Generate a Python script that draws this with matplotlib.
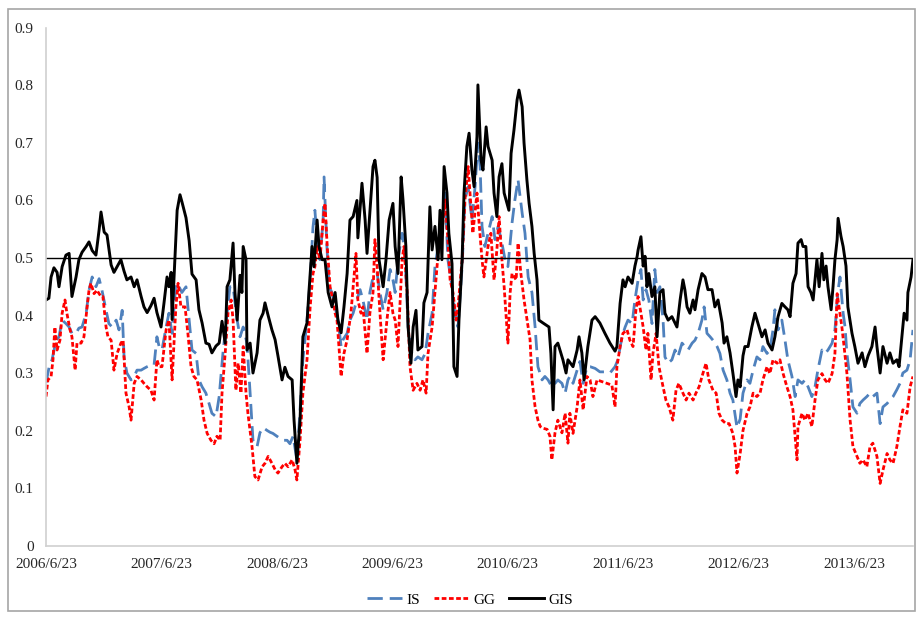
import pandas as pd
import matplotlib
matplotlib.use('Agg')
import matplotlib.pyplot as plt
from matplotlib.patches import Rectangle

plt.rcParams['font.family'] = ['Liberation Serif', 'DejaVu Serif']
plt.rcParams['lines.scale_dashes'] = False

# series start date, values keyed by days since start
start = pd.Timestamp('2006-06-23')
last_day = 2744

tick_years = [2006, 2007, 2008, 2009, 2010, 2011, 2012, 2013]
tick_labels = ['%d/6/23' % y for y in tick_years]
y_ticks = [0, 0.1, 0.2, 0.3, 0.4, 0.5, 0.6, 0.7, 0.8, 0.9]
y_labels = ['0', '0.1', '0.2', '0.3', '0.4', '0.5', '0.6', '0.7', '0.8', '0.9']
threshold = 0.5

gis = [(0,.427),(9,.43),(16,.467),(25,.483),(35,.475),(41,.45),(51,.485),(63,.505),(73,.508),(82,.433),
       (95,.467),(104,.497),(114,.51),(127,.52),(136,.528),(146,.513),(158,.505),(168,.549),(174,.58),(184,.545),
       (193,.54),(206,.488),(215,.475),(225,.485),(237,.497),(247,.477),(256,.462),(269,.467),(279,.45),(288,.462),
       (301,.433),(310,.415),(320,.405),(332,.417),(342,.43),(351,.405),(364,.38),(373,.42),(383,.467),(389,.45),
       (396,.475),(399,.393),(408,.5),(415,.583),(424,.61),(430,.598),(443,.57),(453,.53),(462,.472),(475,.462),
       (484,.41),(494,.387),(506,.352),(516,.35),(525,.335),(538,.347),(548,.352),
       (557,.39),(567,.352),(573,.45),(582,.462),(592,.526),(598,.44),(605,.392),(614,.47),(620,.44),(624,.52),
       (633,.497),(636,.34),(646,.352),(655,.3),(668,.335),(677,.392),(687,.404),(693,.422),(703,.4),(715,.375),
       (725,.358),(734,.33),(747,.288),(756,.31),(766,.294),(779,.288),(785,.218),(794,.143),(804,.218),(813,.363),
       (826,.387),(832,.44),(842,.52),(848,.485),(858,.566),(864,.52),(874,.497),(883,.497),(893,.44),(905,.415),
       (915,.44),(924,.392),(934,.37),(943,.415),(953,.473),(962,.566),(972,.572),(984,.6),(987,.535),(1000,.63),
       (1010,.566),(1016,.508),(1029,.613),(1035,.659),(1041,.67),(1048,.64),(1054,.497),(1067,.45),(1076,.497),
       (1086,.566),(1098,.595),(1105,.52),
       (1114,.473),(1124,.641),(1130,.6),(1139,.52),(1146,.38),(1155,.317),(1162,.38),(1171,.409),(1177,.34),
       (1190,.346),(1196,.422),(1206,.44),(1215,.589),(1222,.514),(1231,.555),(1241,.497),(1247,.583),(1253,.497),
       (1260,.659),(1269,.613),(1275,.543),(1285,.49),(1291,.311),(1301,.294),(1307,.392),(1317,.497),(1323,.613),
       (1332,.694),(1339,.717),(1348,.653),(1355,.624),(1364,.711),(1367,.801),(1377,.67),(1383,.653),(1393,.728),
       (1399,.694),(1412,.67),(1418,.613),(1427,.572),(1434,.641),(1443,.664),(1450,.613),(1459,.595),(1465,.583),
       (1472,.682),(1481,.722),(1491,.775),(1497,.792),(1507,.763),(1513,.7),(1522,.636),(1529,.595),(1538,.555),
       (1545,.508),(1554,.462),(1560,.392),(1573,.387),(1592,.38),(1598,.334),(1605,.236),(1611,.346),(1620,.352),
       (1630,.334),(1636,.323),(1646,.3),(1652,.323),
       (1668,.311),(1681,.34),(1687,.363),(1696,.335),(1703,.288),(1715,.346),(1728,.392),(1738,.398),(1753,.387),
       (1769,.369),(1785,.352),(1801,.338),(1807,.346),(1817,.421),(1826,.462),(1833,.45),(1842,.467),(1855,.456),
       (1864,.486),(1871,.503),(1874,.514),(1883,.537),(1890,.486),(1896,.503),(1902,.45),(1908,.473),(1918,.433),
       (1927,.45),(1934,.363),(1943,.44),(1953,.445),(1959,.404),(1969,.392),(1981,.398),(1991,.387),(1997,.38),
       (2007,.427),(2016,.462),(2022,.445),(2029,.415),(2038,.404),(2048,.427),(2054,.41),(2064,.445),(2076,.473),
       (2086,.467),(2095,.445),(2108,.445),(2117,.415),(2127,.427),(2140,.387),(2146,.352),(2155,.363),(2165,.335),
       (2174,.3),(2184,.259),(2190,.288),(2197,.276),
       (2206,.33),(2212,.346),(2222,.346),(2234,.38),(2244,.404),(2253,.387),(2266,.363),(2276,.375),(2285,.352),
       (2298,.34),(2307,.363),(2317,.398),(2329,.421),(2339,.415),(2348,.41),(2355,.398),(2364,.456),(2374,.473),
       (2380,.526),(2390,.532),(2396,.52),(2405,.52),(2412,.45),(2421,.44),(2428,.427),(2434,.462),(2440,.497),
       (2447,.45),(2456,.508),(2462,.462),(2469,.486),(2475,.45),(2485,.41),(2491,.45),(2497,.497),(2504,.532),
       (2507,.569),(2516,.538),(2523,.52),(2532,.486),(2538,.415),(2551,.369),(2560,.346),(2570,.317),(2583,.335),
       (2592,.311),(2602,.33),(2614,.346),(2624,.38),(2630,.346),(2640,.3),(2649,.346),(2662,.317),(2671,.335),
       (2681,.317),(2693,.323),(2700,.311),(2709,.363),(2716,.404),(2725,.392),(2728,.44),(2738,.467),(2744,.497)]

is_ = [(0,.283),(10,.311),(19,.323),(32,.357),(41,.363),(51,.392),(63,.386),(73,.38),(82,.369),(95,.369),
       (104,.378),(114,.38),(127,.404),(136,.444),(146,.467),(158,.45),(168,.464),(177,.444),(190,.409),(199,.386),
       (209,.38),(222,.392),(231,.375),(241,.409),(247,.328),(256,.3),(269,.288),(279,.294),(288,.305),(301,.305),
       (310,.308),(320,.311),(332,.314),(342,.314),(351,.363),(358,.346),(367,.34),(380,.38),(389,.404),(399,.369),
       (411,.456),(421,.45),(430,.44),(443,.45),(453,.392),(462,.34),(475,.334),(484,.288),(494,.276),(506,.265),
       (516,.247),(525,.23),(538,.224),(548,.259),
       (560,.335),(573,.404),(582,.45),(592,.45),(605,.392),(614,.363),(624,.38),(636,.352),(646,.265),(655,.183),
       (668,.172),(677,.196),(687,.205),(700,.2),(709,.197),(718,.195),(731,.19),(741,.186),(750,.183),(763,.183),
       (772,.177),(782,.19),(794,.149),(804,.236),(813,.323),(826,.392),(836,.462),(845,.554),(851,.583),(858,.532),
       (867,.497),(877,.566),(880,.641),(889,.52),(896,.45),(905,.44),(915,.415),(924,.392),(934,.346),(940,.358),
       (953,.369),(962,.392),(972,.404),(984,.427),(994,.445),(1003,.427),(1016,.392),(1025,.44),(1035,.467),
       (1048,.473),(1057,.44),(1067,.41),(1079,.44),(1089,.48),(1098,.462),
       (1105,.44),(1114,.497),(1127,.543),(1136,.508),(1146,.38),(1158,.334),(1168,.323),(1177,.328),(1190,.323),
       (1200,.334),(1209,.369),(1222,.404),(1231,.485),(1241,.52),(1253,.543),(1263,.613),(1272,.497),(1285,.45),
       (1294,.404),(1304,.38),(1317,.485),(1326,.601),(1336,.624),(1348,.566),(1358,.624),(1367,.7),(1374,.659),
       (1380,.555),(1389,.52),(1399,.543),(1412,.572),(1421,.532),(1431,.555),(1443,.526),(1453,.497),(1462,.485),
       (1475,.561),(1484,.601),(1494,.636),(1507,.578),(1516,.543),(1526,.467),(1538,.44),(1548,.38),(1557,.311),
       (1570,.288),(1579,.294),(1589,.288),(1601,.276),(1611,.282),(1620,.288),(1633,.282),(1643,.265),(1652,.288),
       (1658,.294),(1668,.282),(1681,.305),(1690,.32),(1700,.282),(1712,.311),(1722,.311),(1738,.308),(1753,.302),
       (1769,.302),(1785,.3),(1801,.311),(1810,.323),(1823,.363),(1833,.38),(1842,.392),(1855,.386),(1864,.427),
       (1874,.462),(1883,.48),(1890,.427),(1899,.445),(1908,.427),(1918,.386),(1927,.48),(1934,.44),(1943,.45),
       (1953,.392),(1959,.328),(1969,.317),(1981,.323),(1991,.34),(2000,.328),(2013,.352),(2022,.346),(2032,.34),
       (2045,.352),(2054,.357),(2064,.369),(2076,.392),(2083,.415),(2092,.369),(2102,.363),(2111,.357),(2124,.346),
       (2133,.334),(2143,.305),(2155,.288),(2165,.265),(2174,.253),(2187,.205),
       (2197,.22),(2206,.265),(2219,.288),(2228,.282),(2238,.305),(2250,.328),(2260,.323),(2269,.346),(2282,.334),
       (2291,.34),(2301,.375),(2307,.41),(2317,.375),(2329,.392),(2339,.357),(2348,.323),(2361,.294),(2371,.259),
       (2380,.288),(2393,.282),(2402,.288),(2412,.276),(2424,.259),(2434,.276),(2443,.305),(2456,.34),(2466,.334),
       (2475,.34),(2488,.352),(2497,.375),(2507,.444),(2513,.467),(2523,.404),(2529,.38),(2535,.334),(2545,.288),
       (2554,.241),(2567,.23),(2576,.247),(2586,.253),(2598,.259),(2608,.265),(2617,.259),(2630,.265),(2640,.212),
       (2649,.241),(2662,.247),(2671,.253),(2681,.259),(2693,.271),(2703,.282),(2712,.3),(2725,.305),(2735,.323),
       (2744,.375)]

gg = [(0,.259),(6,.288),(16,.294),(22,.323),(28,.38),(35,.34),(44,.357),(51,.404),(60,.427),(66,.404),
      (76,.375),(82,.363),(92,.305),(98,.352),(111,.352),(120,.363),(130,.415),(136,.444),(142,.456),(152,.438),
      (161,.444),(174,.433),(180,.433),(190,.38),(196,.363),(206,.357),(215,.305),(225,.334),(237,.352),(244,.357),
      (253,.265),(263,.241),(269,.218),(279,.282),(288,.294),(301,.288),(310,.282),(320,.276),(332,.27),(342,.253),
      (351,.323),(358,.311),(367,.311),(380,.375),(389,.392),(399,.288),(411,.415),(418,.456),(427,.415),(440,.415),
      (449,.369),(459,.311),(468,.294),(478,.288),(491,.253),(500,.218),(510,.195),(522,.183),(532,.177),(541,.19),
      (551,.183),(557,.265),(567,.334),(576,.404),(586,.427),(592,.392),(601,.27),(608,.317),(617,.265),(624,.346),
      (633,.265),(639,.23),(652,.172),(661,.12),(671,.114),(684,.137),(693,.143),(703,.155),(715,.143),(725,.132),
      (734,.126),(747,.137),(756,.143),(766,.137),(779,.149),(788,.132),(794,.114),(804,.183),(813,.265),(826,.323),
      (836,.415),(845,.473),(851,.485),(858,.52),(867,.497),(877,.566),(883,.595),(890,.52),(899,.45),(908,.427),
      (915,.404),(921,.392),(934,.294),(943,.334),(953,.358),(965,.404),(972,.45),(981,.508),(987,.427),(997,.404),
      (1003,.415),(1016,.334),(1025,.404),(1035,.44),(1041,.532),(1048,.485),(1057,.404),(1067,.323),(1079,.392),
      (1089,.44),(1098,.404),
      (1105,.392),(1114,.346),(1127,.497),(1133,.52),(1143,.44),(1152,.311),(1162,.27),(1174,.282),(1184,.27),
      (1193,.288),(1203,.265),(1209,.334),(1222,.38),(1231,.44),(1241,.508),(1253,.543),(1263,.601),(1272,.532),
      (1279,.462),(1288,.44),(1298,.392),(1304,.415),(1317,.497),(1326,.601),(1336,.659),(1342,.613),(1351,.543),
      (1364,.613),(1370,.566),(1380,.497),(1386,.467),(1399,.52),(1408,.543),(1418,.462),(1427,.514),(1434,.572),
      (1443,.497),(1450,.45),(1462,.352),(1469,.44),(1475,.473),(1488,.462),(1494,.526),(1503,.473),(1513,.427),
      (1526,.38),(1532,.358),(1538,.288),(1548,.241),(1557,.218),(1564,.207),(1573,.204),(1586,.202),(1595,.19),
      (1601,.149),(1611,.196),(1620,.218),(1633,.196),(1643,.23),(1652,.178),
      (1658,.23),(1668,.195),(1681,.241),(1690,.288),(1700,.236),(1712,.294),(1722,.288),(1731,.259),(1744,.288),
      (1760,.285),(1776,.282),(1791,.279),(1801,.241),(1807,.311),(1817,.346),(1826,.369),(1839,.375),(1848,.357),
      (1858,.346),(1867,.409),(1874,.433),(1883,.404),(1890,.38),(1899,.34),(1905,.369),(1915,.288),(1921,.334),
      (1931,.369),(1940,.311),(1953,.276),(1962,.253),(1972,.241),(1984,.218),(1994,.27),(2003,.282),(2016,.265),
      (2026,.253),(2035,.265),(2048,.253),(2057,.265),(2067,.276),(2079,.299),(2089,.317),(2098,.288),(2111,.27),
      (2121,.265),(2130,.23),(2140,.218),(2152,.212),(2162,.212),(2174,.195),(2181,.172),(2187,.126),
      (2197,.16),(2206,.2),(2219,.23),(2228,.241),(2238,.265),(2250,.259),(2260,.265),(2269,.288),(2282,.311),
      (2291,.299),(2301,.323),(2314,.317),(2323,.323),(2333,.299),(2345,.276),(2355,.259),(2364,.236),(2377,.149),
      (2380,.207),(2393,.23),(2402,.218),(2412,.23),(2424,.207),(2434,.253),(2443,.288),(2456,.299),(2466,.288),
      (2475,.282),(2488,.299),(2497,.334),(2504,.438),(2510,.415),(2519,.38),(2526,.346),(2535,.299),(2545,.218),
      (2554,.172),(2567,.155),(2576,.143),(2586,.149),(2598,.137),(2608,.172),(2617,.178),(2630,.155),(2640,.108),
      (2649,.131),(2662,.16),(2671,.149),(2681,.143),(2693,.172),(2703,.207),(2712,.236),(2725,.23),(2735,.276),
      (2744,.294)]


def to_series(pairs):
    days, vals = zip(*pairs)
    return start + pd.to_timedelta(list(days), unit='D'), list(vals)


fig = plt.figure(figsize=(9.17, 6.19), dpi=100)
ax = fig.add_axes([0.0502, 0.1187, 0.9454, 0.8361])

d, v = to_series(is_)
ax.plot(d, v, color='#4F81BD', lw=2.0, dashes=(11, 5), label='IS')
d, v = to_series(gg)
ax.plot(d, v, color='#FF0000', lw=2.0, dashes=(3.4, 1.8), label='GG')
d, v = to_series(gis)
ax.plot(d, v, color='black', lw=2.1, label='GIS')
ax.axhline(threshold, color='black', lw=1.0)

ax.set_xlim(start, start + pd.Timedelta(days=last_day))
ax.set_ylim(0, 0.9)
ax.set_yticks(y_ticks)
ax.set_yticklabels(y_labels)
ax.set_xticks([pd.Timestamp('%d-06-23' % y) for y in tick_years])
ax.set_xticklabels(tick_labels)
ax.tick_params(length=0, labelsize=11, labelcolor='#262626')
ax.tick_params(axis='y', pad=9)
ax.tick_params(axis='x', pad=9)

for side in ['top', 'right']:
    ax.spines[side].set_visible(False)
for side in ['left', 'bottom']:
    ax.spines[side].set_color('#D0D0D0')
    ax.spines[side].set_linewidth(1.2)

fig.legend(loc='center', bbox_to_anchor=(0.5125, 0.031), ncol=3, frameon=False,
           fontsize=11, handlelength=2.3, handletextpad=0.3, columnspacing=0.9)

# outer chart border
fig.patches.append(Rectangle((8 / 917, 1 - 611 / 619), 907 / 917, 602 / 619,
                             transform=fig.transFigure, fill=False,
                             edgecolor='#A6A6A6', lw=1.2))

fig.savefig('out.png', dpi=100)
